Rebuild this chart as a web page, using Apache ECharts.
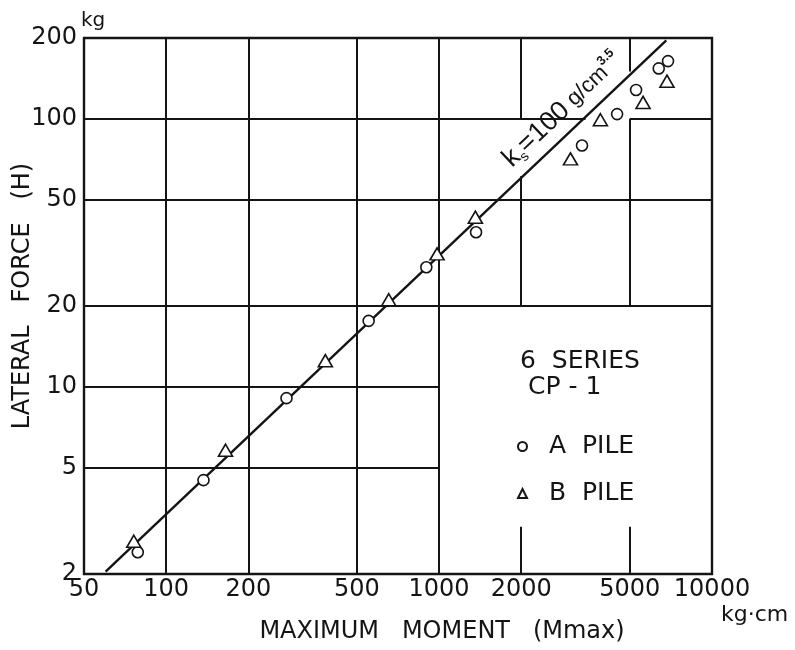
<!DOCTYPE html>
<html><head><meta charset="utf-8">
<script src="https://cdn.jsdelivr.net/npm/echarts@6/dist/echarts.min.js"></script>
<style>html,body{margin:0;padding:0;background:#fff}#c{width:795px;height:650px}</style>
</head><body><div id="c"></div>
<script>
// ---- data ----
const xTicks = [50, 100, 200, 500, 1000, 2000, 5000, 10000];
const yTicks = [2, 5, 10, 20, 50, 100, 200];
const pileA = [[78.7,2.41],[137,4.48],[276,9.06],[552,17.6],[898,27.9],[1366,37.7],[3340,79.4],[4490,104],[5270,128],[6380,154],[6900,164]];
const pileB = [[76.1,2.65],[165,5.79],[383,12.5],[654,21.1],[983,31.3],[1358,42.9],[3030,70.8],[3900,99.1],[5590,115],[6840,138]];
const fitLine = [[60,2.04],[6800,196]];
const seriesNames = ['A  PILE', 'B  PILE'];

const FONT = 'DejaVu Sans';
const INK = '#141414';

// grid segments (partial grid as in the drawing)
const segs = [];
function vseg(x, y1, y2) { segs.push({ coords: [[x, y1], [x, y2]] }); }
function hseg(y, x1, x2) { segs.push({ coords: [[x1, y], [x2, y]] }); }
[100, 200, 500, 1000].forEach(x => vseg(x, 2, 200));
vseg(2000, 100, 200); vseg(2000, 20, 61); vseg(2000, 2, 3);
vseg(5000, 20, 100); vseg(5000, 150, 200); vseg(5000, 2, 3);
hseg(20, 50, 10000); hseg(50, 50, 10000);
hseg(100, 50, 3440); hseg(100, 5000, 10000);
hseg(10, 50, 1000); hseg(5, 50, 1000);

const chart = echarts.init(document.getElementById('c'), null, { renderer: 'canvas' });
const fmt = v => String(Math.round(v));
const option = {
  animation: false,
  backgroundColor: '#fff',
  grid: { left: 84, right: 83, top: 38, bottom: 76, containLabel: false, outerBoundsMode: 'none',
          show: true, borderColor: INK, borderWidth: 2.4, backgroundColor: 'transparent' },
  xAxis: {
    type: 'log', logBase: 10, min: 50, max: 10000,
    axisLine: { show: false }, axisTick: { show: false }, splitLine: { show: false }, minorTick: { show: false },
    axisLabel: { customValues: xTicks, formatter: fmt, fontFamily: FONT, fontSize: 24, color: INK, margin: 4 },
    name: 'MAXIMUM   MOMENT   (Mmax)', nameLocation: 'middle', nameGap: 46, nameMoveOverlap: false,
    nameTextStyle: { fontFamily: FONT, fontSize: 24, color: INK, padding: [0, 0, 0, 88] }
  },
  yAxis: {
    type: 'log', logBase: 10, min: 2, max: 200,
    axisLine: { show: false }, axisTick: { show: false }, splitLine: { show: false },
    axisLabel: { customValues: yTicks, formatter: fmt, fontFamily: FONT, fontSize: 24, color: INK, margin: 7 },
    name: 'LATERAL   FORCE   (H)', nameLocation: 'middle', nameGap: 49, nameMoveOverlap: false,
    nameTextStyle: { fontFamily: FONT, fontSize: 24, color: INK, padding: [0, 0, 0, 20] }
  },
  legend: {
    orient: 'vertical', left: 517, top: 434, padding: 0, itemWidth: 9, itemHeight: 9, itemGap: 22,
    data: seriesNames,
    textStyle: { fontFamily: FONT, fontSize: 25, color: INK, padding: [0, 0, 0, 17] }
  },
  series: [
    { type: 'lines', coordinateSystem: 'cartesian2d', data: segs, silent: true, z: 1,
      lineStyle: { color: INK, width: 2, opacity: 1 } },
    { type: 'line', data: fitLine, showSymbol: false, silent: true, z: 2,
      lineStyle: { color: INK, width: 2.4 } },
    { type: 'scatter', name: seriesNames[0], data: pileA, symbol: 'circle', symbolSize: 11, z: 3,
      itemStyle: { color: '#fff', borderColor: INK, borderWidth: 1.6, opacity: 1 } },
    { type: 'scatter', name: seriesNames[1], data: pileB, symbol: 'triangle', symbolSize: [14, 12], z: 3,
      itemStyle: { color: '#fff', borderColor: INK, borderWidth: 1.6, opacity: 1 } }
  ]
};
chart.setOption(option);

// annotation along the fitted line
const p0 = chart.convertToPixel('grid', fitLine[0]);
const p1 = chart.convertToPixel('grid', fitLine[1]);
const ang = Math.atan2(p0[1] - p1[1], p1[0] - p0[0]);
const ax = 2000;
const t = (Math.log10(ax) - Math.log10(fitLine[0][0])) / (Math.log10(fitLine[1][0]) - Math.log10(fitLine[0][0]));
const ay = Math.pow(10, Math.log10(fitLine[0][1]) + t * (Math.log10(fitLine[1][1]) - Math.log10(fitLine[0][1])));
const pa = chart.convertToPixel('grid', [ax, ay]);
const off = 6;
const ann = [pa[0] - Math.sin(ang) * off, pa[1] - Math.cos(ang) * off];
const AF = 'Liberation Sans';

chart.setOption({
  graphic: [
    { type: 'text', left: 81, top: 11, style: { text: 'kg', font: '20px "DejaVu Sans"', fill: INK } },
    { type: 'text', left: 721, top: 604, style: { text: 'kg·cm', font: '22px "DejaVu Sans"', fill: INK } },
    { type: 'text', left: 520, top: 349, style: { text: '6  SERIES', font: '25px "DejaVu Sans"', fill: INK } },
    { type: 'text', left: 528, top: 375, style: { text: 'CP - 1', font: '25px "DejaVu Sans"', fill: INK } },
    { type: 'text', x: ann[0], y: ann[1], rotation: ang, z: 10,
      style: {
        text: '{k|k}{s|s}{m|=100}{g| g/cm}{p|3.5}',
        align: 'left', verticalAlign: 'bottom', fill: INK,
        rich: {
          k: { fontFamily: AF, fontSize: 27, lineHeight: 30, verticalAlign: 'middle' },
          s: { fontFamily: AF, fontSize: 14, lineHeight: 30, verticalAlign: 'bottom' },
          m: { fontFamily: AF, fontSize: 27, lineHeight: 30, verticalAlign: 'middle' },
          g: { fontFamily: AF, fontSize: 22, lineHeight: 30, verticalAlign: 'middle' },
          p: { fontFamily: AF, fontSize: 13, fontWeight: 'bold', lineHeight: 30, verticalAlign: 'top' }
        }
      } }
  ]
});
</script></body></html>
